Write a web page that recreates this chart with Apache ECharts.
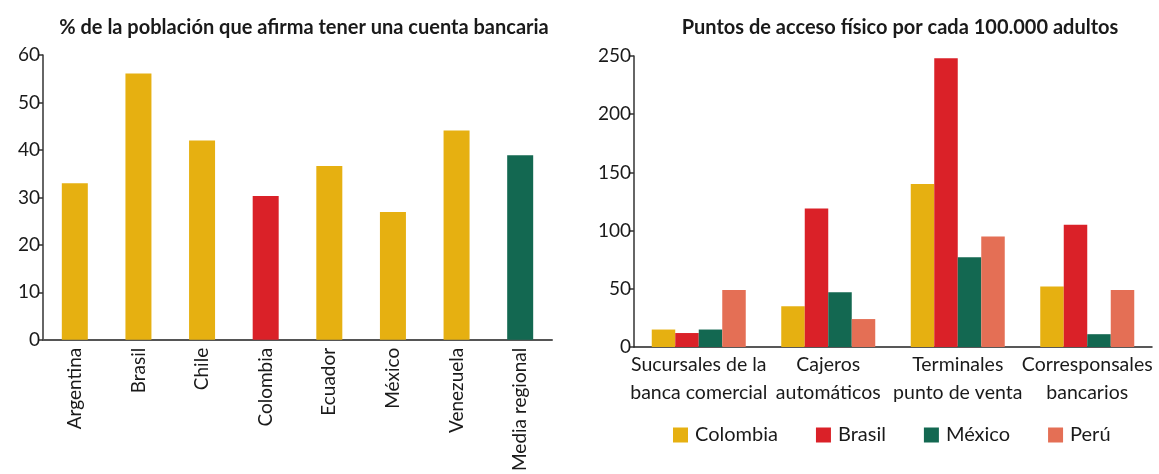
<!DOCTYPE html>
<html>
<head>
<meta charset="utf-8">
<script src="https://cdn.jsdelivr.net/npm/echarts@6/dist/echarts.min.js"></script>
<style>
  html, body { margin: 0; padding: 0; background: #fff; }
  #chart { width: 1159px; height: 474px; }
</style>
</head>
<body>
<div id="chart"></div>
<script>
// Left panel: share of population with a bank account
const paises = ['Argentina', 'Brasil', 'Chile', 'Colombia', 'Ecuador', 'México', 'Venezuela', 'Media regional'];
const cuentaBancaria = [33.0, 56.1, 42.0, 30.3, 36.6, 26.9, 44.1, 38.9];
const tickIzquierda = [0, 10, 20, 30, 40, 50, 60];

// Right panel: physical access points per 100,000 adults
const puntosAcceso = ['Sucursales de la\nbanca comercial', 'Cajeros\nautomáticos', 'Terminales\npunto de venta', 'Corresponsales\nbancarios'];
const serieColombia = [15, 35, 140, 52];
const serieBrasil = [12, 119, 248, 105];
const serieMexico = [15, 47, 77, 11];
const seriePeru = [49, 24, 95, 49];
const tickDerecha = [0, 50, 100, 150, 200, 250];

const AMARILLO = '#E6B011', ROJO = '#DA2128', VERDE = '#136851', SALMON = '#E46F55';
const FONT = 'Lato, "Open Sans", sans-serif';
const TEXTO = '#1a1a1a';

const coloresPaises = paises.map(p => p === 'Colombia' ? ROJO : (p === 'Media regional' ? VERDE : AMARILLO));

const chart = echarts.init(document.getElementById('chart'), null, { renderer: 'canvas' });

const yAxisCommon = {
  type: 'value',
  axisLine: { show: true, lineStyle: { color: '#333', width: 1.5 } },
  axisTick: { show: true, length: 5, lineStyle: { color: '#333', width: 1.5 } },
  splitLine: { show: false },
  axisLabel: { color: TEXTO, fontSize: 19, fontFamily: FONT, margin: 3 }
};

chart.setOption({
  animation: false,
  textStyle: { fontFamily: FONT },
  title: [
    {
      text: '% de la población que afirma tener una cuenta bancaria',
      left: 299, top: 13, textAlign: 'center',
      textStyle: { fontSize: 20, fontWeight: 'bold', color: TEXTO, fontFamily: FONT }
    },
    {
      text: 'Puntos de acceso físico por cada 100.000 adultos',
      left: 895, top: 13, textAlign: 'center',
      textStyle: { fontSize: 20, fontWeight: 'bold', color: TEXTO, fontFamily: FONT }
    }
  ],
  legend: {
    data: ['Colombia', 'Brasil', 'México', 'Perú'],
    left: 673, top: 425, padding: 0,
    itemWidth: 15, itemHeight: 15, itemGap: 38,
    icon: 'rect',
    textStyle: { fontSize: 20, color: TEXTO, fontFamily: FONT, padding: [0, 0, 0, 2] }
  },
  grid: [
    { left: 43, right: 607, top: 55, bottom: 132 },
    { left: 634, right: 7, top: 56, bottom: 127 }
  ],
  xAxis: [
    {
      type: 'category', gridIndex: 0, data: paises,
      axisLine: { lineStyle: { color: '#555', width: 2 } },
      axisTick: { show: false },
      axisLabel: { rotate: 90, color: TEXTO, fontSize: 19, fontFamily: FONT, margin: 8, interval: 0 }
    },
    {
      type: 'category', gridIndex: 1, data: puntosAcceso,
      axisLine: { lineStyle: { color: '#222', width: 1.5 } },
      axisTick: { show: false },
      axisLabel: { color: TEXTO, fontSize: 19.5, fontFamily: FONT, margin: 4, lineHeight: 28, interval: 0 }
    }
  ],
  yAxis: [
    Object.assign({}, yAxisCommon, { gridIndex: 0, min: tickIzquierda[0], max: tickIzquierda[tickIzquierda.length - 1], interval: 10 }),
    Object.assign({}, yAxisCommon, { gridIndex: 1, min: tickDerecha[0], max: tickDerecha[tickDerecha.length - 1], interval: 50 })
  ],
  series: [
    {
      type: 'bar', xAxisIndex: 0, yAxisIndex: 0, barWidth: 26,
      data: cuentaBancaria.map((v, i) => ({ value: v, itemStyle: { color: coloresPaises[i] } }))
    },
    { name: 'Colombia', type: 'bar', xAxisIndex: 1, yAxisIndex: 1, barWidth: 23.5, barGap: '0%', data: serieColombia, itemStyle: { color: AMARILLO } },
    { name: 'Brasil', type: 'bar', xAxisIndex: 1, yAxisIndex: 1, barWidth: 23.5, barGap: '0%', data: serieBrasil, itemStyle: { color: ROJO } },
    { name: 'México', type: 'bar', xAxisIndex: 1, yAxisIndex: 1, barWidth: 23.5, barGap: '0%', data: serieMexico, itemStyle: { color: VERDE } },
    { name: 'Perú', type: 'bar', xAxisIndex: 1, yAxisIndex: 1, barWidth: 23.5, barGap: '0%', data: seriePeru, itemStyle: { color: SALMON } }
  ]
});
</script>
</body>
</html>
